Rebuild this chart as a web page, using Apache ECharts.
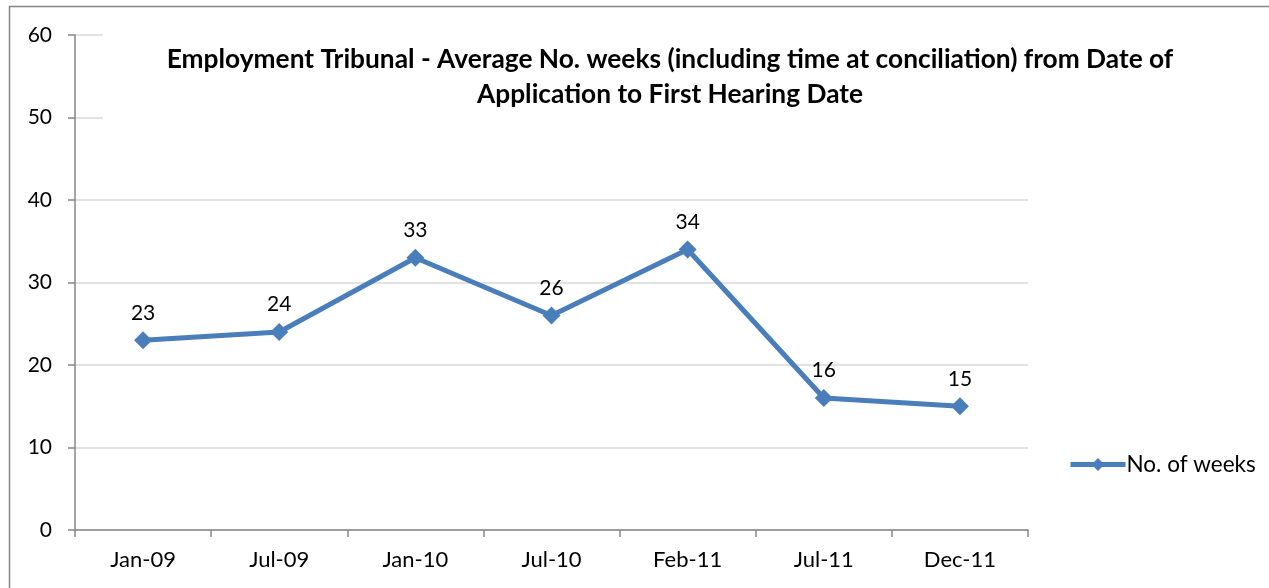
<!DOCTYPE html>
<html>
<head>
<meta charset="utf-8">
<script src="https://cdn.jsdelivr.net/npm/echarts@6/dist/echarts.min.js"></script>
<style>
  html, body { margin: 0; padding: 0; background: #fff; }
  #chart { width: 1269px; height: 588px; }
</style>
</head>
<body>
<div id="chart"></div>
<script>
// categories (x axis)
const months = ['Jan-09', 'Jul-09', 'Jan-10', 'Jul-10', 'Feb-11', 'Jul-11', 'Dec-11']
// average number of weeks
const weeks = [23, 24, 33, 26, 34, 16, 15]
const seriesName = 'No. of weeks'
const yTicks = { min: 0, max: 60, step: 10 }

const chart = echarts.init(document.getElementById('chart'))

chart.setOption({
  backgroundColor: '#fff',
  textStyle: { fontFamily: 'Lato' },
  graphic: [
    {
      type: 'rect',
      shape: { x: 9.5, y: 6.5, width: 1300, height: 620 },
      style: { fill: 'none', stroke: '#868686', lineWidth: 1.5 },
      z: 100
    }
  ],
  title: {
    text: 'Employment Tribunal - Average No. weeks (including time at conciliation) from Date of\nApplication to First Hearing Date',
    left: 606,
    textAlign: 'center',
    top: 22,
    padding: [20, 64, 24, 64],
    backgroundColor: '#fff',
    z: 10,
    textStyle: {
      fontFamily: 'Lato',
      fontWeight: 'bold',
      fontSize: 26.3,
      lineHeight: 35,
      color: '#000'
    }
  },
  legend: {
    orient: 'vertical',
    left: 1063,
    top: 448,
    itemWidth: 55,
    itemHeight: 16,
    itemGap: 0,
    lineStyle: { width: 5 },
    textStyle: { fontSize: 22.5, color: '#000', padding: [0, 0, 0, -4] },
    data: [seriesName]
  },
  grid: {
    left: 75,
    right: 241,
    top: 35,
    bottom: 58,
    containLabel: false
  },
  xAxis: {
    type: 'category',
    data: months,
    boundaryGap: true,
    axisLine: { lineStyle: { color: '#868686', width: 1.5 } },
    axisTick: { show: true, length: 7, lineStyle: { color: '#868686', width: 1.5 } },
    axisLabel: { fontSize: 22, color: '#000', margin: 19 },
    splitLine: { show: false }
  },
  yAxis: {
    type: 'value',
    min: yTicks.min,
    max: yTicks.max,
    interval: yTicks.step,
    axisLine: { show: true, lineStyle: { color: '#868686', width: 1.5 } },
    axisTick: { show: true, length: 7, lineStyle: { color: '#868686', width: 1.5 } },
    axisLabel: { fontSize: 21, color: '#000', margin: 23 },
    splitLine: { show: true, lineStyle: { color: '#d9d9d9', width: 1.5 } }
  },
  series: [
    {
      name: seriesName,
      type: 'line',
      data: weeks,
      symbol: 'diamond',
      symbolSize: 18,
      color: '#4a7ebb',
      lineStyle: { width: 5, color: '#4a7ebb' },
      itemStyle: { color: '#4a7ebb' },
      label: {
        show: true,
        position: 'top',
        distance: 8,
        fontSize: 21,
        color: '#000'
      },
      z: 5
    }
  ]
})
</script>
</body>
</html>
